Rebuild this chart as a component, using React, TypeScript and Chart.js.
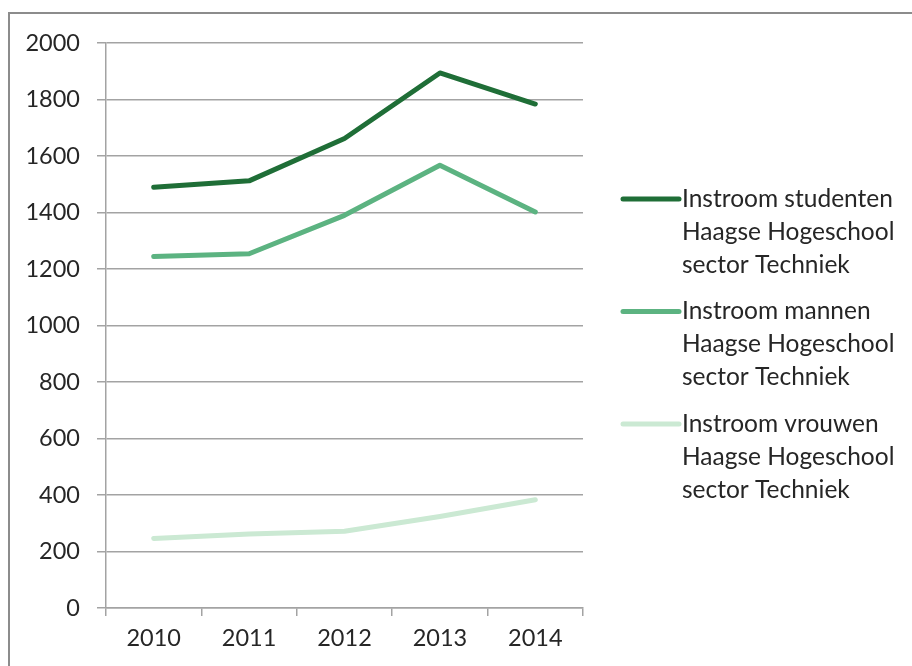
import React, { useEffect, useRef } from "react";
import { Chart, registerables } from "chart.js";

Chart.register(...registerables);

const categories = ["2010", "2011", "2012", "2013", "2014"];
const studenten = [1489, 1512, 1662, 1894, 1784];
const mannen = [1244, 1254, 1390, 1567, 1402];
const vrouwen = [246, 262, 272, 324, 383];
const seriesLines = [
  ["Instroom studenten", "Haagse Hogeschool", "sector Techniek"],
  ["Instroom mannen", "Haagse Hogeschool", "sector Techniek"],
  ["Instroom vrouwen", "Haagse Hogeschool", "sector Techniek"],
];
const seriesColors = ["#1f6e37", "#5cb381", "#cbe9d3"];
const yTicks = [0, 200, 400, 600, 800, 1000, 1200, 1400, 1600, 1800, 2000];

const FONT = "Lato, 'Open Sans', sans-serif";
const TEXT = "#262626";
const GRID = "#a3a3a3";

const legendPlugin = {
  id: "sideLegend",
  afterDraw(chart: any) {
    const { ctx, chartArea } = chart;
    const x0 = chartArea.right + 40;
    const lineLen = 56;
    const rowH = 33;
    const gap = 13.5;
    const firstY = 199;
    ctx.save();
    ctx.font = `24.5px ${FONT}`;
    ctx.textBaseline = "middle";
    ctx.textAlign = "left";
    let y = firstY;
    chart.data.datasets.forEach((ds: any, i: number) => {
      ctx.strokeStyle = ds.borderColor;
      ctx.lineWidth = 5;
      ctx.lineCap = "round";
      ctx.beginPath();
      ctx.moveTo(x0, y);
      ctx.lineTo(x0 + lineLen, y);
      ctx.stroke();
      ctx.fillStyle = TEXT;
      seriesLines[i].forEach((t, k) => {
        ctx.fillText(t, x0 + lineLen + 3, y + k * rowH);
      });
      y += seriesLines[i].length * rowH + gap;
    });
    ctx.restore();
  },
};

export default function App() {
  const ref = useRef<HTMLCanvasElement>(null);
  useEffect(() => {
    const canvas = ref.current!;
    const mk = (data: number[], i: number) => ({
      label: seriesLines[i].join(" "),
      data,
      borderColor: seriesColors[i],
      backgroundColor: seriesColors[i],
      borderWidth: 5,
      pointRadius: 0,
      tension: 0,
      borderCapStyle: "round" as const,
      borderJoinStyle: "round" as const,
    });
    const chart = new Chart(canvas, {
      type: "line",
      data: {
        labels: categories,
        datasets: [mk(studenten, 0), mk(mannen, 1), mk(vrouwen, 2)],
      },
      options: {
        animation: false,
        responsive: false,
        maintainAspectRatio: false,
        layout: { padding: { left: 0, right: 329, top: 43, bottom: 0 } },
        plugins: {
          legend: { display: false },
          tooltip: { enabled: false },
          title: { display: false },
        },
        scales: {
          x: {
            type: "category",
            offset: true,
            afterFit: (axis: any) => {
              axis.height = 58;
            },
            grid: {
              display: true,
              offset: true,
              drawOnChartArea: false,
              drawTicks: true,
              tickLength: 8,
              color: GRID,
              lineWidth: 1.5,
            },
            border: { display: true, color: GRID, width: 1.5 },
            ticks: {
              color: TEXT,
              font: { family: FONT, size: 23.5 },
              padding: 8,
              maxRotation: 0,
            },
          },
          y: {
            min: 0,
            max: 2000,
            afterFit: (axis: any) => {
              axis.width = 106;
            },
            afterBuildTicks: (axis: any) => {
              axis.ticks = yTicks.map((v) => ({ value: v }));
            },
            grid: {
              color: GRID,
              lineWidth: 1.5,
              drawTicks: true,
              tickLength: 9,
            },
            border: { display: true, color: GRID, width: 1.5 },
            ticks: {
              color: TEXT,
              font: { family: FONT, size: 23.5 },
              padding: 17,
              callback: (v: any) => String(v),
            },
          },
        },
      },
      plugins: [legendPlugin],
    });
    return () => chart.destroy();
  }, []);

  return (
    <div
      style={{
        position: "fixed",
        left: 0,
        top: 0,
        width: 912,
        height: 666,
        overflow: "hidden",
        background: "#fff",
      }}
    >
      <canvas
        ref={ref}
        width={912}
        height={666}
        style={{ position: "absolute", left: 0, top: 0, width: 912, height: 666 }}
      />
      <div
        style={{
          position: "absolute",
          left: 8,
          top: 12,
          width: 940,
          height: 720,
          border: "2px solid #8c8c8c",
          pointerEvents: "none",
        }}
      />
    </div>
  );
}
